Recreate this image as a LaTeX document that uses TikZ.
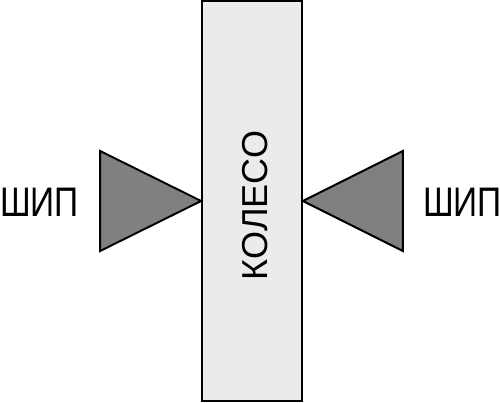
\documentclass[tikz,border=0pt]{standalone}
\usepackage{fontspec}
\setmainfont{Liberation Sans}
\usetikzlibrary{positioning}
\definecolor{wheelgray}{HTML}{EBEBEB}
\definecolor{spikegray}{HTML}{808080}
\begin{document}
\begin{tikzpicture}[
  wheelbox/.style={draw, line width=1pt, fill=wheelgray, minimum width=2cm, minimum height=8.0cm, inner sep=0pt},
  spike/.style={draw, line width=1.1pt, fill=spikegray, line join=miter},
  spikelabel/.style={font=\fontsize{23.5}{28}\selectfont, inner sep=0pt},
]
\useasboundingbox (0,0) rectangle (10,8.04);

% колесо
\node[wheelbox] (wheel) at (5.04, 4.02) {};
\node[font=\fontsize{20.5}{24}\selectfont, rotate=90, inner sep=0pt] (wheeltext) at (5.1, 3.93) {КОЛЕСО};

% шипы
\draw[spike] (wheel.west) -- ++(-2.02, 1) -- ++(0, -2) -- cycle;
\draw[spike] (wheel.east) -- ++(2.0, 1) -- ++(0, -2) -- cycle;

% подписи
\node[spikelabel] (leftlabel) at (0.79, 4.0) {\scalebox{0.81}[1]{ШИП}};
\node[spikelabel] (rightlabel) at (9.25, 4.0) {\scalebox{0.81}[1]{ШИП}};

\end{tikzpicture}
\end{document}
